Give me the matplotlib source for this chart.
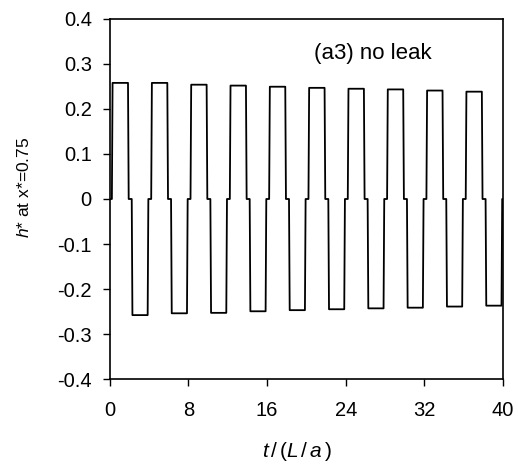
import numpy as np
import matplotlib.pyplot as plt

plt.rcParams['font.family'] = ['Liberation Sans', 'DejaVu Sans']
plt.rcParams['mathtext.fontset'] = 'custom'
plt.rcParams['mathtext.rm'] = 'Liberation Sans'
plt.rcParams['mathtext.it'] = 'Liberation Sans:italic'

# pulse timing at x*=0.75 (in units of L/a), one cycle every 4 L/a
cycle_start = [0, 4, 8, 12, 16, 20, 24, 28, 32, 36]
pos_on, pos_off = 0.28, 1.85     # positive plateau within a cycle
neg_on, neg_off = 2.30, 3.85     # negative plateau within a cycle
ramp = 0.07
# plateau heights
pos_level = [0.258, 0.258, 0.254, 0.252, 0.2495, 0.247, 0.245, 0.2435, 0.241, 0.2385]
neg_level = [-0.258, -0.254, -0.253, -0.2495, -0.247, -0.245, -0.243, -0.2415, -0.239, -0.237]

t = [0.0]
h = [0.0]
for c, p, n in zip(cycle_start, pos_level, neg_level):
    t += [c + pos_on - ramp, c + pos_on, c + pos_off, c + pos_off + ramp,
          c + neg_on - ramp, c + neg_on, c + neg_off, c + neg_off + ramp]
    h += [0, p, p, 0, 0, n, n, 0]
t.append(40.0)
h.append(0.0)

fig = plt.figure(figsize=(5.18, 4.70), dpi=100)
ax = fig.add_axes([0.212, 0.1936, 0.759, 0.766])
ax.plot(t, h, color='black', lw=1.3)

ax.set_xlim(0, 40)
ax.set_ylim(-0.4, 0.4)
ax.set_xticks(np.arange(0, 41, 8))
ax.set_yticks(np.arange(-0.4, 0.41, 0.1))
ax.set_yticklabels(['-0.4', '-0.3', '-0.2', '-0.1', '0', '0.1', '0.2', '0.3', '0.4'])
ax.tick_params(direction='out', length=5, width=1, labelsize=14.5)
ax.tick_params(axis='x', pad=11)
ax.tick_params(axis='y', pad=8)
for s in ax.spines.values():
    s.set_linewidth(1.2)

ax.set_xlabel(r'$\mathit{t}\,/\,(\mathit{L}\,/\,\mathit{a}\,)$', fontsize=15)
ax.set_ylabel(r'$\mathit{h}$* at x*=0.75', fontsize=12.5)
ax.xaxis.set_label_coords(0.475, -0.169)
ax.yaxis.set_label_coords(-0.198, 0.533)

ax.text(26.8, 0.324, '(a3) no leak', fontsize=16, ha='center', va='center')

fig.savefig('out.png', dpi=100)
